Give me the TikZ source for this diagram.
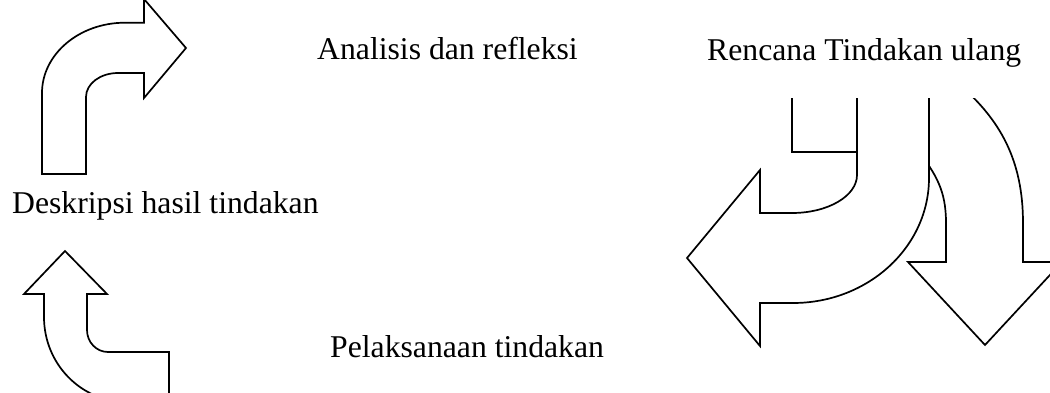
\documentclass[tikz,border=0pt]{standalone}
\usepackage{fontspec}
\setmainfont{Liberation Serif}
\begin{document}
\begin{tikzpicture}[x=1pt,y=-1pt,
  outline/.style={draw=black,fill=white,line width=1.7pt,line join=miter},
  bandline/.style={draw=black,line width=1.7pt},
  caption/.style={anchor=base west,inner sep=0pt,font=\fontsize{31.7}{38}\selectfont}]
\useasboundingbox (0,0) rectangle (1050,393);
\clip (0,0) rectangle (1050,393);

% upper left: arrow bending up and to the right
\path[outline] (42,174) -- (42,93)
  .. controls (42,54.2) and (79.2,22.7) .. (125,22.7)
  -- (144,22.7) -- (144,-1) -- (186,48) -- (144,98) -- (144,73) -- (118,73)
  .. controls (100.3,73) and (86,83.7) .. (86,97)
  -- (86,174) -- cycle;

% lower left: arrow bending up
\path[outline] (169,404) -- (169,352) -- (108,352)
  .. controls (96.4,352) and (87,342.2) .. (87,330)
  -- (87,294) -- (107,294) -- (65,251) -- (24,294) -- (44,294) -- (44,317)
  .. controls (44,364) and (81.2,402) .. (127,402) -- cycle;

% right group: curved arrows turning back
\begin{scope}
  \clip (600,99) rectangle (1050,393);
  % arrow curving down, partly behind the other one
  \path[outline] (946,223) -- (946,262) -- (908,262) -- (985,345) -- (1062,262)
    -- (1023,262) -- (1023,223)
    .. controls (1023,160) and (1000,120) .. (960,85)
    -- (900,85) -- (918,150)
    .. controls (936,175) and (946,190) .. (946,223) -- cycle;
  % arrow curving round to the left
  \path[outline] (857,85) -- (857,175)
    .. controls (857,196) and (827.9,213) .. (792,213)
    -- (760,213) -- (760,170) -- (687,258) -- (760,346) -- (760,303) -- (793,303)
    .. controls (868.1,303) and (929,247) .. (929,178)
    -- (929,85) -- cycle;
  % back part of the band
  \path[bandline] (792,85) -- (792,152) -- (857,152);
\end{scope}

\node[caption] (analisis) at (317,60) {Analisis dan refleksi};
\node[caption] (rencana) at (707,61) {Rencana Tindakan ulang};
\node[caption] (deskripsi) at (12,214) {Deskripsi hasil tindakan};
\node[caption] (pelaksanaan) at (330,357) {Pelaksanaan tindakan};
\end{tikzpicture}
\end{document}
